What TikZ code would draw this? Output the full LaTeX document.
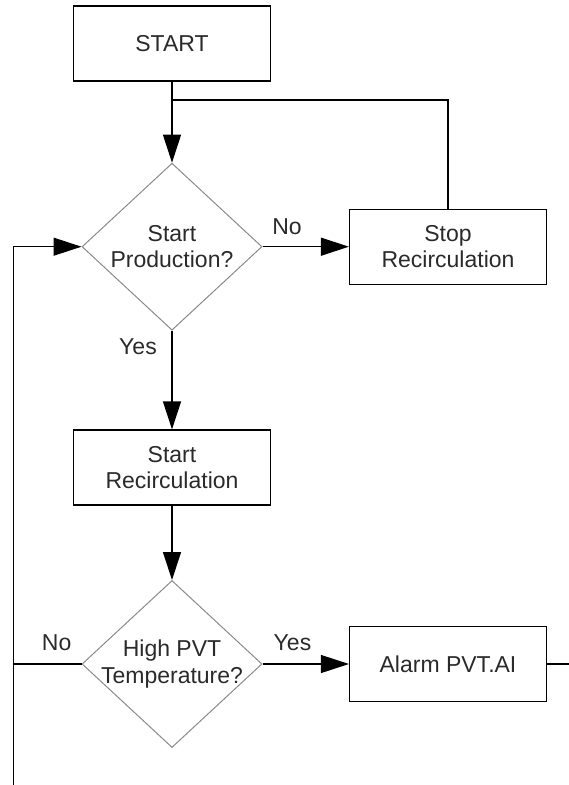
\documentclass[tikz,border=0pt]{standalone}
\usepackage{fontspec}
\setmainfont{Liberation Sans}
\usetikzlibrary{arrows.meta,shapes.geometric}
\definecolor{inkc}{HTML}{2A2A2A}
\definecolor{diagray}{HTML}{8A8A8A}
\begin{document}
\begin{tikzpicture}[x=1pt,y=-1pt,
  txt/.style={font=\fontsize{23}{26.5}\selectfont,text=inkc,align=center},
  box/.style={txt,draw=black,line width=1.2pt,minimum width=197pt,minimum height=75pt,inner sep=0pt},
  decision/.style={diamond,draw=diagray,line width=1pt,minimum width=180pt,minimum height=167pt,inner sep=0pt},
  dtext/.style={txt,inner sep=0pt},
  lbl/.style={txt,inner sep=0pt},
  link/.style={line width=1.2pt},
  flow/.style={link,-{Triangle[length=28pt,width=18pt]}}]
\useasboundingbox (0,0) rectangle (569,785);

% process boxes
\node[box] (start) at (172,43.5) {START};
\node[box] (stop)  at (448,246.7) {Stop\\Recirculation};
\node[box] (srec)  at (172,467.5) {Start\\Recirculation};
\node[box] (alarm) at (448,664) {Alarm PVT.AI};

% decisions
\node[decision] (d1) at (172,246.7) {};
\node[dtext] (d1t) at (d1) {Start\\Production?};
\node[decision] (d2) at (172,664) {};
\node[dtext] (d2t) at (d2) {High PVT\\Temperature?};

% free ends
\coordinate (j)  at (172,100);
\coordinate (lb) at (13.5,785);
\coordinate (re) at (569,664);

% connectors
\draw[flow] (start.south) -- (d1.north);
\draw[link] (stop.north) |- (j);
\draw[flow] (d1.east) -- (stop.west);
\draw[flow] (d1.south) -- (srec.north);
\draw[flow] (srec.south) -- (d2.north);
\draw[flow] (d2.east) -- (alarm.west);
\draw[flow] (lb) |- (d1.west);
\draw[link] (d2.west) -- (d2.west -| lb);
\draw[link] (alarm.east) -- (re);

% branch labels
\node[lbl] (no1)  at (287,227) {No};
\node[lbl] (yes1) at (138,347) {Yes};
\node[lbl] (no2)  at (56.6,643) {No};
\node[lbl] (yes2) at (292.5,643) {Yes};
\end{tikzpicture}
\end{document}
